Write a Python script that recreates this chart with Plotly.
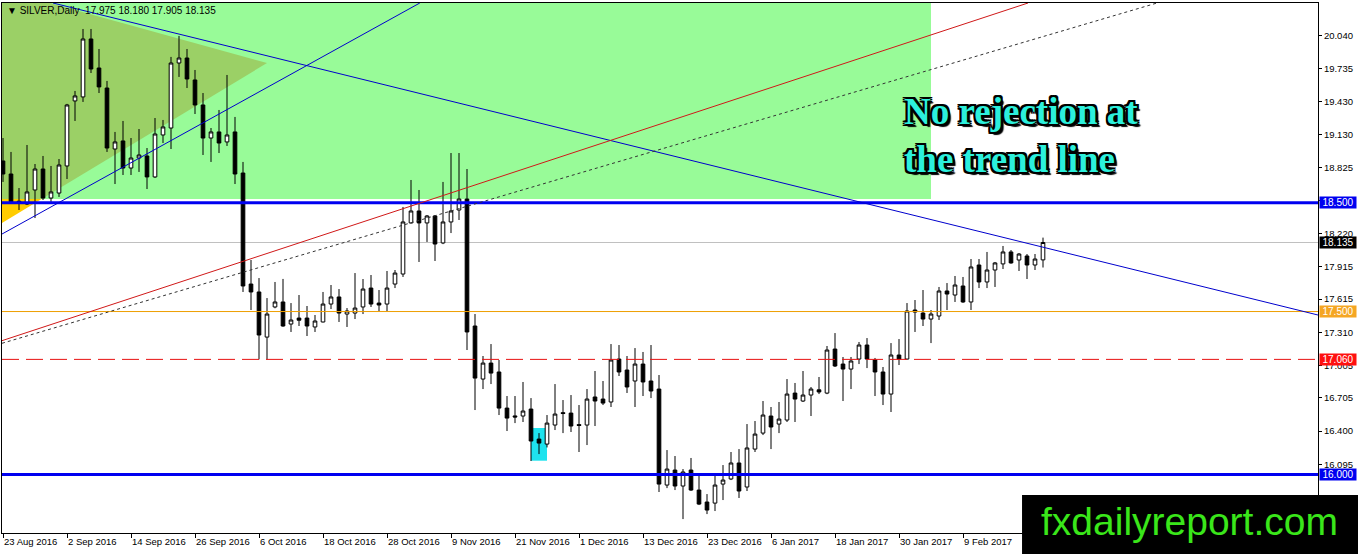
import numpy as np
import pandas as pd
import plotly.graph_objects as go

# ---------------- data ----------------
symbol = "SILVER,Daily"
bdays = pd.bdate_range("2016-08-23", periods=133)
holidays = pd.to_datetime(["2016-12-26", "2017-01-02"])
dates = [d for d in bdays if d not in holidays][:131]

open_ = [18.885,18.765,18.515,18.489,18.618,18.811,18.544,18.590,18.839,19.437,
19.474,20.007,19.740,19.556,18.995,19.069,18.820,18.912,18.931,18.738,
19.124,19.188,19.786,19.832,19.630,19.400,19.096,19.152,19.060,19.152,
18.774,17.753,17.680,17.265,17.542,17.588,17.385,17.440,17.440,17.358,
17.404,17.569,17.634,17.477,17.486,17.542,17.716,17.578,17.569,17.753,
17.845,18.315,18.425,18.315,18.379,18.131,18.324,18.434,18.535,17.367,
16.879,17.026,16.944,16.612,16.540,16.539,16.603,16.327,16.281,16.456,
16.570,16.566,16.460,16.456,16.714,16.695,16.668,17.063,16.962,16.861,
17.017,16.861,16.787,15.904,16.042,15.895,16.042,15.858,15.748,15.738,
15.913,15.960,16.107,15.886,16.235,16.382,16.539,16.465,16.502,16.750,
16.677,16.732,16.780,16.750,17.155,17.017,16.971,17.063,17.192,17.054,
16.944,16.741,17.100,17.063,17.514,17.486,17.431,17.459,17.689,17.652,
17.735,17.588,17.928,17.772,17.882,17.938,18.048,17.974,18.011,17.928,
17.975]
high = [19.096,18.968,18.636,19.032,18.857,18.931,18.839,18.903,19.410,19.529,
20.099,20.099,19.915,19.621,19.152,19.253,19.096,19.179,19.004,19.280,
19.262,19.842,20.035,19.915,19.722,19.510,19.188,19.354,19.676,19.290,
18.876,17.974,17.808,17.624,17.772,17.800,17.578,17.652,17.551,17.468,
17.680,17.744,17.707,17.532,17.854,17.799,17.836,17.698,17.873,17.882,
18.462,18.710,18.618,18.388,18.388,18.692,18.958,18.958,18.811,17.477,
17.091,17.201,17.054,16.723,16.723,16.852,16.704,16.382,16.548,16.833,
16.686,16.732,16.640,16.787,16.953,16.861,17.201,17.192,17.091,17.164,
17.128,17.192,16.916,16.226,16.171,16.051,16.153,15.996,15.821,16.014,
16.088,16.208,16.235,16.465,16.493,16.677,16.622,16.668,16.879,16.843,
16.953,16.806,16.898,17.183,17.302,17.082,17.082,17.220,17.256,17.073,
16.990,17.210,17.247,17.578,17.606,17.698,17.514,17.726,17.762,17.827,
17.818,17.983,17.983,18.048,17.956,18.103,18.066,18.038,18.029,18.029,
18.180]
low = [18.692,18.490,18.434,18.480,18.360,18.526,18.508,18.554,18.719,19.253,
19.428,19.694,19.510,18.968,18.673,18.756,18.756,18.784,18.627,18.729,
19.050,18.995,19.658,19.556,19.317,18.940,18.876,18.958,19.023,18.673,
17.680,17.514,17.060,17.060,17.530,17.360,17.312,17.367,17.275,17.312,
17.400,17.523,17.404,17.358,17.431,17.477,17.542,17.505,17.505,17.716,
17.818,18.310,17.956,18.140,17.965,18.120,18.222,18.342,17.146,16.594,
16.787,16.833,16.548,16.401,16.474,16.484,16.125,16.189,16.250,16.410,
16.382,16.392,16.208,16.272,16.447,16.640,16.622,16.907,16.751,16.622,
16.723,16.704,15.840,15.876,15.858,15.591,15.850,15.720,15.637,15.665,
15.766,15.950,15.785,15.849,16.208,16.364,16.235,16.382,16.484,16.484,
16.668,16.539,16.741,16.740,16.990,16.677,16.787,17.017,16.980,16.723,
16.640,16.576,17.008,17.060,17.312,17.367,17.210,17.422,17.514,17.588,
17.580,17.514,17.716,17.716,17.726,17.891,17.940,17.873,17.799,17.882,
17.905]
close = [18.765,18.508,18.505,18.600,18.811,18.544,18.600,18.848,19.400,19.483,
20.007,19.731,19.566,19.004,19.060,18.820,18.912,18.940,18.738,19.133,
19.198,19.786,19.832,19.639,19.400,19.096,19.152,19.050,19.124,18.765,
17.735,17.680,17.284,17.477,17.588,17.367,17.422,17.420,17.367,17.413,
17.569,17.634,17.486,17.505,17.532,17.707,17.569,17.560,17.716,17.854,
18.324,18.425,18.315,18.379,18.121,18.324,18.425,18.535,17.312,16.888,
17.026,16.934,16.612,16.520,16.530,16.585,16.309,16.290,16.474,16.557,
16.562,16.447,16.452,16.695,16.677,16.658,17.054,16.944,16.806,17.017,
16.852,16.769,15.913,16.051,15.895,16.024,15.858,15.729,15.674,15.904,
15.950,16.107,15.849,16.245,16.373,16.548,16.438,16.511,16.741,16.695,
16.732,16.787,16.760,17.146,16.999,16.971,17.045,17.192,17.063,16.944,
16.741,17.100,17.063,17.505,17.495,17.431,17.477,17.689,17.661,17.744,
17.588,17.910,17.772,17.882,17.947,18.048,17.947,18.029,17.928,17.983,
18.135]

price_ticks = [20.040, 19.735, 19.430, 19.130, 18.825, 18.520, 18.220, 17.915,
               17.615, 17.310, 17.005, 16.705, 16.400, 16.095, 15.790]
date_tick_step = 8

# horizontal levels: (price, colour, width, dash, box colour)
levels = [
    (18.500, "#0000F0", 3, "solid", "#0000F0"),
    (17.500, "#EE9E00", 1, "solid", "#F5A623"),
    (17.060, "#E81010", 1, "17px,7px", "#FF1010"),
    (16.000, "#0000F0", 3, "solid", "#0000F0"),
]
# trend lines as (bar index, price) pairs
trend_lines = [
    ((-0.125, 18.213), (52.1, 20.338), "#0000CD", 1, "solid"),
    ((6.25, 20.338), (164.375, 17.468), "#0000CD", 1, "solid"),
    ((-0.125, 17.232), (128.125, 20.338), "#D01818", 1, "solid"),
    ((-0.125, 17.208), (144.25, 20.338), "#333333", 1, "3px,3px"),
]
zone_rect = (-0.125, 116.0, 18.535, 21.0)
triangle = [(-0.125, 20.46), (33.0, 19.786), (-0.125, 18.315)]
marker_rect = (66.0, 68.0, 16.128, 16.429)

# ---------------- figure ----------------
idx = np.arange(len(dates))
fig = go.Figure()
fig.add_trace(go.Candlestick(
    x=idx, open=open_, high=high, low=low, close=close,
    increasing=dict(line=dict(color="black", width=1), fillcolor="white"),
    decreasing=dict(line=dict(color="black", width=1), fillcolor="black"),
    whiskerwidth=0, showlegend=False, hoverinfo="skip"))


def clip_poly(pts, level, keep_above):
    out = []
    n = len(pts)
    for k in range(n):
        a, b = pts[k], pts[(k + 1) % n]
        ina = (a[1] >= level) if keep_above else (a[1] <= level)
        inb = (b[1] >= level) if keep_above else (b[1] <= level)
        if ina:
            out.append(a)
        if ina != inb:
            t = (level - a[1]) / (b[1] - a[1])
            out.append((a[0] + t * (b[0] - a[0]), level))
    return out


def path(pts):
    return "M " + " L ".join(f"{x},{y}" for x, y in pts) + " Z"


shapes = []
shapes.append(dict(type="rect", xref="x", yref="y", x0=zone_rect[0], x1=zone_rect[1],
                   y0=zone_rect[2], y1=zone_rect[3], fillcolor="#98FB98",
                   line=dict(width=0), layer="below"))
shapes.append(dict(type="path", xref="x", yref="y",
                   path=path(clip_poly(triangle, zone_rect[2], True)),
                   fillcolor="#9BD066", line=dict(width=0), layer="below"))
shapes.append(dict(type="path", xref="x", yref="y",
                   path=path(clip_poly(triangle, zone_rect[2], False)),
                   fillcolor="#FFCC00", line=dict(width=0), layer="below"))
shapes.append(dict(type="rect", xref="x", yref="y", x0=marker_rect[0], x1=marker_rect[1],
                   y0=marker_rect[2], y1=marker_rect[3], fillcolor="#1EE3EE",
                   line=dict(width=0), layer="below"))
shapes.append(dict(type="line", xref="paper", yref="y", x0=0, x1=1, y0=close[-1], y1=close[-1],
                   line=dict(color="#C0C0C0", width=1), layer="below"))
for lv, col, w, dash, _ in levels:
    shapes.append(dict(type="line", xref="paper", yref="y", x0=0, x1=1, y0=lv, y1=lv,
                       line=dict(color=col, width=w, dash=dash), layer="above"))
for p0, p1, col, w, dash in trend_lines:
    shapes.append(dict(type="line", xref="x", yref="y", x0=p0[0], y0=p0[1], x1=p1[0], y1=p1[1],
                       line=dict(color=col, width=w, dash=dash), layer="above"))
shapes.append(dict(type="rect", xref="paper", yref="paper", x0=0.7751, x1=1.04,
                   y0=-0.05, y1=0.0717, fillcolor="black", line=dict(width=0), layer="above"))

annotations = []
annotations.append(dict(
    xref="paper", yref="paper", x=0, y=1, xanchor="left", yanchor="top", xshift=3, yshift=0,
    showarrow=False, align="left",
    text=f"▼ {symbol}  {open_[-1]:.3f} {high[-1]:.3f} {low[-1]:.3f} {close[-1]:.3f}",
    font=dict(family="Liberation Sans", size=10, color="black")))
for lv, col, w, dash, box in levels + [(close[-1], None, None, None, "#000000")]:
    annotations.append(dict(
        xref="paper", yref="y", x=1, y=lv, xanchor="left", yanchor="middle", xshift=1,
        showarrow=False, text=f"{lv:.3f}", bgcolor=box, width=36, height=11, borderpad=0,
        font=dict(family="Liberation Sans", size=10, color="white")))
annotations.append(dict(
    xref="paper", yref="paper", x=0.6839, y=0.837, xanchor="left", yanchor="top",
    showarrow=False, align="left", text="No rejection at<br>the trend line",
    font=dict(family="Liberation Serif", size=37, color="#2CF0DC", weight="bold",
              shadow="2px 2px 0 #000, -2px -2px 0 #000, 2px -2px 0 #000, -2px 2px 0 #000, "
                     "0 2px 0 #000, 2px 0 0 #000, 0 -2px 0 #000, -2px 0 0 #000, 3px 3px 1px #000")))
annotations.append(dict(
    xref="paper", yref="paper", x=0.9027, y=0.0226, xanchor="center", yanchor="middle",
    showarrow=False, text="fxdailyreport.com",
    font=dict(family="Liberation Sans", size=39, color="#3AE61A")))

tick_idx = list(range(0, len(dates), date_tick_step))
tick_txt = [f"{dates[k].day} {dates[k].strftime('%b %Y')}" for k in tick_idx]

fig.update_layout(
    width=1358, height=554, margin=dict(l=2, r=40, t=3, b=21, autoexpand=False),
    paper_bgcolor="white", plot_bgcolor="white", showlegend=False,
    boxgap=0.35, shapes=shapes, annotations=annotations,
    xaxis=dict(range=[-0.125, 164.375], rangeslider=dict(visible=False), showgrid=False,
               zeroline=False, showline=True, mirror=True, linecolor="black", linewidth=1,
               ticks="outside", ticklen=4, tickcolor="black", tickvals=tick_idx, ticktext=tick_txt,
               ticklabelposition="outside right", automargin=False,
               tickfont=dict(family="Liberation Sans", size=9.5, color="black")),
    yaxis=dict(range=[15.463, 20.338], side="right", showgrid=False, zeroline=False,
               showline=True, mirror=True, linecolor="black", linewidth=1,
               ticks="outside", ticklen=3, tickcolor="black", automargin=False,
               tickvals=price_ticks, ticktext=[f"{v:.3f}" for v in price_ticks],
               tickfont=dict(family="Liberation Sans", size=9.5, color="black")),
)
fig.write_html("out.html", config={"displayModeBar": False},
               post_script="document.body.style.margin='0';document.body.style.overflow='hidden';")
